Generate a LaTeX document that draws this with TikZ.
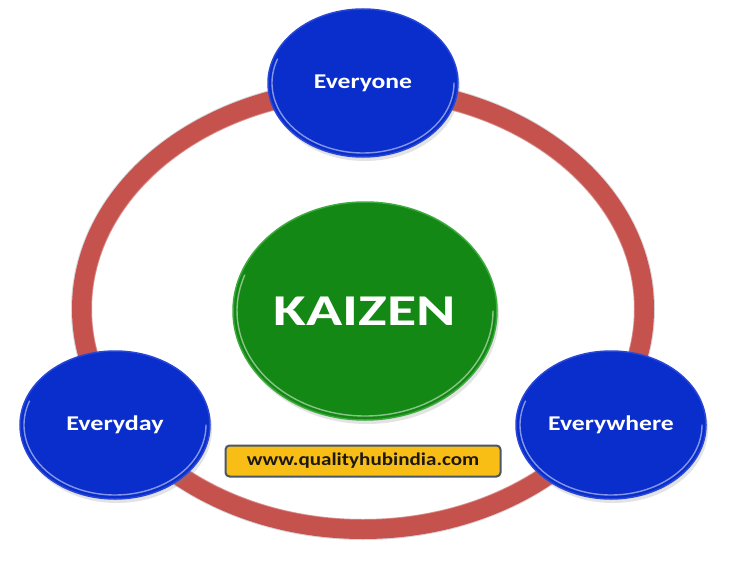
\documentclass[tikz,border=0pt]{standalone}
\usepackage{fontspec}
\setmainfont{Carlito}
\usetikzlibrary{shapes.geometric,shadows}
\definecolor{ringred}{RGB}{198,82,78}
\definecolor{ringedge}{RGB}{120,120,135}
\definecolor{bblue}{RGB}{10,46,204}
\definecolor{bblueedge}{RGB}{40,70,215}
\definecolor{kgreen}{RGB}{20,136,20}
\definecolor{kgreenedge}{RGB}{60,170,60}
\definecolor{gold}{RGB}{248,190,22}
\definecolor{boxedge}{RGB}{72,86,102}
\definecolor{webtext}{RGB}{28,24,20}
\newcommand{\wide}[2]{\scalebox{#1}[1]{#2}}
\tikzset{
  bluecirc/.style={ellipse, fill=bblue, draw=bblueedge, line width=1.5pt,
    minimum width=190pt, minimum height=148pt, inner sep=0pt,
    text=white, font=\bfseries\fontsize{21}{24}\selectfont,
    drop shadow={opacity=0.22, shadow xshift=2pt, shadow yshift=-4pt}},
  greencirc/.style={ellipse, fill=kgreen, draw=kgreenedge, line width=1.5pt,
    minimum width=264pt, minimum height=218pt, inner sep=0pt,
    text=white, font=\bfseries\fontsize{44}{50}\selectfont,
    drop shadow={opacity=0.22, shadow xshift=2pt, shadow yshift=-4pt}},
  webbox/.style={rectangle, rounded corners=4pt, fill=gold, draw=boxedge,
    line width=2pt, minimum width=275pt, minimum height=31pt, inner sep=0pt,
    text=webtext, font=\bfseries\fontsize{18}{22}\selectfont},
  ringline/.style={ringred, line width=20pt},
  gloss/.style={white, opacity=0.5, line width=1.4pt, line cap=round}
}
\begin{document}
\begin{tikzpicture}[x=1pt,y=-1pt]
\useasboundingbox (0,0) rectangle (739,578);
\fill[white] (0,0) rectangle (739,578);
% ring
\draw[ringedge!50, line width=2pt, opacity=0.6] (363,309) ellipse [x radius=291, y radius=230];
\draw[ringline] (363,309) ellipse [x radius=281, y radius=220];
\draw[white, opacity=0.35, line width=1.5pt] (363,309) ellipse [x radius=271, y radius=210];
% centre
\node[greencirc] (kaizen) at (365,311) {\wide{1.36}{KAIZEN}};
\draw[gloss] (kaizen.center) ++(0:128 and 105) arc[start angle=0, end angle=200, x radius=128, y radius=105];
% outer circles
\node[bluecirc] (everyone) at (363,83) {\wide{1.22}{Everyone}};
\draw[gloss] (everyone.center) ++(0:91 and 70) arc[start angle=0, end angle=200, x radius=91, y radius=70];
\node[bluecirc] (everyday) at (115,425) {\wide{1.24}{Everyday}};
\draw[gloss] (everyday.center) ++(0:91 and 70) arc[start angle=0, end angle=200, x radius=91, y radius=70];
\node[bluecirc] (everywhere) at (611,425) {\wide{1.22}{Everywhere}};
\draw[gloss] (everywhere.center) ++(0:91 and 70) arc[start angle=0, end angle=200, x radius=91, y radius=70];
% website box
\node[webbox] (web) at (363,461) {\wide{1.17}{www.qualityhubindia.com}};
\end{tikzpicture}
\end{document}
